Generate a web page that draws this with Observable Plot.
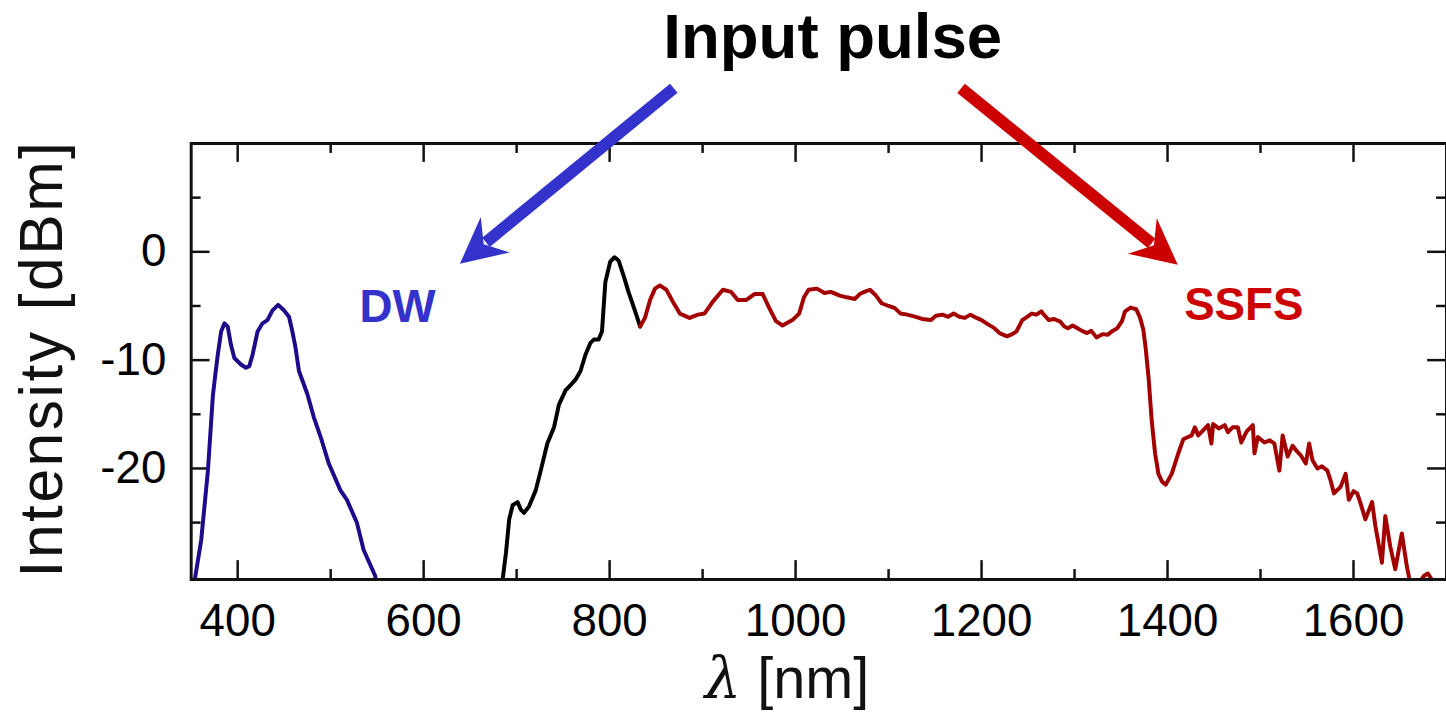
<!DOCTYPE html>
<html><head><meta charset="utf-8">
<script src="https://cdn.jsdelivr.net/npm/d3@7"></script>
<script src="https://cdn.jsdelivr.net/npm/@observablehq/plot@0.6"></script>
<style>html,body{margin:0;padding:0;background:#fff;overflow:hidden}#chart svg{display:block}</style>
</head><body><div id="chart"></div>
<script>
// ---- data ----
const dwWavelength = [352,354,360.8,368,373.3,376,378.6,382.2,385.8,389.3,392.8,396.4,403.5,408.9,412.5,416,421.4,426.7,432,437.4,443.5,449.7,455.2,458.8,462.3,465.9,474.8,482,490,498,510.4,517.5,528.2,535.4,547.8,550];
const dwIntensity  = [-31,-30.2,-26.6,-20.2,-13.3,-11.3,-9.5,-7.35,-6.6,-6.9,-8.6,-9.8,-10.4,-10.7,-10.55,-9.5,-7.35,-6.6,-6.3,-5.4,-4.9,-5.4,-6.0,-7.35,-8.9,-11.0,-13.1,-15.3,-17.3,-19.55,-22.0,-22.9,-25.0,-27.5,-29.9,-31];

const pumpWavelength = [684,685,688.5,692,695.7,701,704.5,708,713.4,720.6,725.9,733,740.2,745.5,752.6,758,763.3,768.7,774,779.4,783,788.2,791.8,795.4,800.7,805.3,809.6,815,820.3,827.5,832.8];
const pumpIntensity  = [-31,-30.2,-27.8,-24.7,-23.4,-23.1,-23.8,-24.1,-23.5,-22.0,-20.2,-17.7,-16.2,-14.1,-12.8,-12.3,-11.8,-11.0,-9.5,-8.4,-8.1,-8.1,-7.35,-2.8,-0.9,-0.5,-0.8,-2.2,-3.7,-5.5,-6.9];

const ssfsWavelength = [832.8,838,843.5,848.8,854,861,868,875.5,886,895,902,911,921.8,930.7,937.8,946.8,955.7,964.6,971.7,978.9,986,996.6,1003.8,1009,1014,1023,1031,1038,1047.5,1055,1063.8,1069,1074,1080,1086,1092.5,1100,1106.8,1112.9,1120,1129.3,1136,1145.6,1151,1158,1164,1170,1176,1182,1188,1194.7,1200,1207,1213,1219.3,1227.4,1233,1237.6,1243.8,1249,1254,1259,1264.3,1268,1272.4,1278,1284.7,1289,1292.8,1298,1303.1,1308,1313.4,1318,1323.5,1330,1335.8,1341,1346,1351,1354.3,1360.3,1366.4,1370.5,1374,1376.5,1379.6,1383,1386.6,1390.2,1394,1398,1404.5,1411.6,1417,1422,1425.9,1429.4,1433,1438,1443.6,1447.2,1449,1455,1461.5,1465,1470,1475.6,1479.3,1485,1491.7,1493.5,1497.1,1504.2,1510,1514.9,1520.3,1523.8,1529.2,1534.5,1540,1543.4,1548.7,1552.3,1555.9,1561.2,1566,1571.9,1575,1579,1586.1,1591.5,1595,1600,1604,1607.5,1612.8,1620,1623.5,1630.6,1634.2,1639.5,1644.9,1652,1657.3,1661,1664,1670,1676,1680,1686,1690];
const ssfsIntensity  = [-6.9,-6.1,-4.45,-3.4,-3.1,-3.5,-4.6,-5.7,-6.1,-5.8,-5.7,-4.6,-3.5,-3.7,-4.45,-4.45,-3.9,-3.9,-5.2,-6.4,-6.8,-6.3,-5.7,-4.2,-3.5,-3.4,-3.8,-3.7,-4.05,-4.2,-4.35,-3.9,-3.7,-3.5,-4.0,-4.75,-5.0,-5.2,-5.7,-5.8,-6.0,-6.2,-6.3,-5.9,-5.8,-6.0,-5.7,-6.0,-6.1,-5.8,-6.1,-6.3,-6.7,-7.0,-7.5,-7.8,-7.6,-7.35,-6.3,-6.0,-5.7,-5.8,-5.5,-5.9,-6.3,-6.2,-6.45,-6.9,-7.05,-6.8,-7.05,-7.3,-7.5,-7.3,-7.9,-7.6,-7.65,-7.3,-7.05,-6.4,-5.5,-5.15,-5.3,-6.1,-7.2,-8.9,-11.6,-15.6,-18.6,-20.5,-21.2,-21.5,-20.5,-18.6,-17.3,-17.1,-16.95,-16.2,-16.95,-16.5,-16.0,-17.7,-15.9,-16.3,-16.0,-16.65,-16.2,-16.2,-17.6,-16.6,-16.0,-18.6,-17.1,-17.6,-17.4,-17.7,-20.2,-16.95,-18.9,-17.9,-18.5,-18.8,-19.55,-17.7,-19.25,-20.0,-19.8,-20.2,-21,-22.3,-21.7,-20.5,-22.9,-22.1,-22.3,-23.2,-24.7,-23.1,-25.3,-28.7,-24.4,-27.2,-29.3,-26.0,-29.0,-30.6,-31.5,-30.6,-29.9,-29.7,-30.5,-31];

const xTickValues = [400, 600, 800, 1000, 1200, 1400, 1600];
const xMinorTicks = [500, 700, 900, 1100, 1300, 1500];
const yTickValues = [-20, -10, 0];
const yMinorTicks = [-25, -15, -5, 5];

const labelText = ["DW", "SSFS"];
const labelX = [572, 1482];
const labelY = [-5.16, -4.98];

const arrowX1 = [869, 1178];
const arrowY1 = [15.1, 15.1];
const arrowX2 = [639, 1411];
const arrowY2 = [-1.1, -1.2];

const titleText = "Input pulse";
const xTitle = "λ [nm]";
const yTitle = "Intensity [dBm]";

// ---- layout / style ----
const W = 1456, H = 719, ML = 192, MR = 0, MT = 144, MB = 136;
const PW = W - ML - MR, PH = H - MT - MB;
const X_DOMAIN = [350, 1700], Y_DOMAIN = [-30.25, 10];
const FONT = "'Liberation Sans', Arial, Helvetica, sans-serif";
const colDW = "#1e0a8a", colPump = "#000000", colSSFS = "#a30000";
const arrowColors = ["#3333cc", "#cc0000"];

const rows = (xs, ys) => xs.map((x, i) => ({x, y: ys[i]}));
const dw = rows(dwWavelength, dwIntensity);
const pump = rows(pumpWavelength, pumpIntensity);
const ssfs = rows(ssfsWavelength, ssfsIntensity);
const labels = labelText.map((t, i) => ({t, x: labelX[i], y: labelY[i], c: arrowColors[i]}));
const arrows = arrowX1.map((x1, i) => ({x1, y1: arrowY1[i], x2: arrowX2[i], y2: arrowY2[i], c: arrowColors[i]}));

const sx = Plot.scale({x: {domain: X_DOMAIN, range: [ML, W - MR]}});
const sy = Plot.scale({y: {domain: Y_DOMAIN, range: [H - MB, MT]}});
arrows.forEach(a => {
  const dx = sx.apply(a.x2) - sx.apply(a.x1);
  const dy = sy.apply(a.y2) - sy.apply(a.y1);
  a.angle = Math.atan2(dx, -dy);
});
function headSymbol(angle) {
  const c = Math.cos(angle), s = Math.sin(angle);
  const pts = [[0, 0], [23, 46], [0, 31], [-23, 46]].map(([px, py]) => [c * px - s * py, s * px + c * py]);
  return {draw(ctx) {
    ctx.moveTo(pts[0][0], pts[0][1]);
    for (let i = 1; i < pts.length; i++) ctx.lineTo(pts[i][0], pts[i][1]);
    ctx.closePath();
  }};
}

const tickStyle = {stroke: "#111", strokeWidth: 2.5};
const marks = [
  // ticks on all four sides, pointing inward
  Plot.tickX(xTickValues, {x: d => d, insetTop: PH - 19, ...tickStyle}),
  Plot.tickX(xTickValues, {x: d => d, insetBottom: PH - 19, ...tickStyle}),
  Plot.tickX(xMinorTicks, {x: d => d, insetTop: PH - 10, ...tickStyle}),
  Plot.tickX(xMinorTicks, {x: d => d, insetBottom: PH - 10, ...tickStyle}),
  Plot.tickY(yTickValues, {y: d => d, insetRight: PW - 19, ...tickStyle}),
  Plot.tickY(yTickValues, {y: d => d, insetLeft: PW - 19, ...tickStyle}),
  Plot.tickY(yMinorTicks, {y: d => d, insetRight: PW - 10, ...tickStyle}),
  Plot.tickY(yMinorTicks, {y: d => d, insetLeft: PW - 10, ...tickStyle}),
  Plot.axisX(xTickValues, {tickSize: 0, tickPadding: 24, fontSize: 46, tickFormat: d => String(d), label: null}),
  Plot.axisY(yTickValues, {tickSize: 0, tickPadding: 25, fontSize: 46, tickFormat: d => String(d), label: null}),
  // spectra
  Plot.line(dw, {x: "x", y: "y", stroke: colDW, strokeWidth: 4, clip: true}),
  Plot.line(pump, {x: "x", y: "y", stroke: colPump, strokeWidth: 4, clip: true}),
  Plot.line(ssfs, {x: "x", y: "y", stroke: colSSFS, strokeWidth: 4, clip: true}),
  Plot.frame({stroke: "#111", strokeWidth: 3}),
  // annotations
  ...arrows.map(a => Plot.arrow([a], {x1: "x1", y1: "y1", x2: "x2", y2: "y2", stroke: a.c, strokeWidth: 12, headLength: 0, insetEnd: 34, strokeLinecap: "butt", strokeLinejoin: "miter"})),
  ...arrows.map(a => Plot.dot([a], {x: "x2", y: "y2", symbol: headSymbol(a.angle), fill: a.c, stroke: "none", r: 10})),
  Plot.text(labels, {x: "x", y: "y", text: "t", fill: "c", fontSize: 46, fontWeight: "bold", textAnchor: "middle", lineAnchor: "middle"}),
  Plot.text([titleText], {frameAnchor: "top", textAnchor: "middle", lineAnchor: "middle", dx: 14, dy: -106.5, fontSize: 64, fontWeight: "bold", fill: "#000"}),
  Plot.text([xTitle], {frameAnchor: "bottom", textAnchor: "middle", lineAnchor: "middle", dx: -32, dy: 101, fontSize: 58, fill: "#111"}),
  Plot.text([yTitle], {frameAnchor: "left", textAnchor: "middle", lineAnchor: "middle", rotate: -90, dx: -150, dy: -3, fontSize: 61, fill: "#111"})
];

const chart = Plot.plot({
  width: W, height: H,
  marginLeft: ML, marginRight: MR, marginTop: MT, marginBottom: MB,
  x: {domain: X_DOMAIN},
  y: {domain: Y_DOMAIN},
  style: {fontFamily: FONT, fontSize: "46px", background: "#fff", color: "#000"},
  marks
});

chart.querySelectorAll("text").forEach(t => {
  if (t.textContent === xTitle) {
    while (t.firstChild) t.removeChild(t.firstChild);
    const ns = "http://www.w3.org/2000/svg";
    const l = document.createElementNS(ns, "tspan");
    l.setAttribute("font-style", "italic");
    l.setAttribute("font-family", "'DejaVu Serif', serif");
    l.textContent = "λ";
    const r = document.createElementNS(ns, "tspan");
    r.textContent = " [nm]";
    t.appendChild(l); t.appendChild(r);
  } else if (t.textContent === yTitle) {
    t.style.letterSpacing = "2.5px";
  }
});
document.getElementById("chart").appendChild(chart);
</script></body></html>
